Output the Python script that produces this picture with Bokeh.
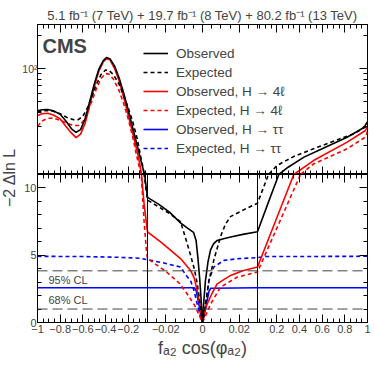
import numpy as np
from bokeh.plotting import figure
from bokeh.models import Range1d, LinearAxis, FixedTicker, Span, Label, Legend, LegendItem
from bokeh.layouts import column, row
from bokeh.embed import file_html
from bokeh.resources import INLINE

# ---------------- data ----------------
# x segment breaks of the piecewise axis
seg_breaks = [-0.03, 0.03]
cl_levels = [1.0, 3.84]
cl_labels = ["68% CL", "95% CL"]

x_tick_vals = [-1, -0.8, -0.6, -0.4, -0.2, -0.02, 0, 0.02, 0.2, 0.4, 0.6, 0.8, 1]
x_tick_labels = ["−1", "−0.8", "−0.6", "−0.4", "−0.2", "−0.02", "0", "0.02",
                 "0.2", "0.4", "0.6", "0.8", "1"]

# Observed, combined
obs_x = [-1.00, -0.96, -0.91, -0.86, -0.80, -0.75, -0.70, -0.66, -0.62, -0.58, -0.54,
         -0.50, -0.46, -0.42, -0.39, -0.36, -0.32, -0.28, -0.24, -0.20, -0.16, -0.12,
         -0.09, -0.07, -0.056, -0.045, -0.030,
         -0.024, -0.018, -0.012, -0.008, -0.0049, -0.0035, -0.0025, -0.0015, -0.0007, 0.0,
         0.0008, 0.0016, 0.003, 0.0044, 0.006, 0.008, 0.012, 0.016, 0.022, 0.030,
         0.12, 0.218, 0.30, 0.44, 0.60, 0.82, 0.95, 0.98, 1.00]
obs_y = [41.5, 42.4, 42.6, 41.5, 38.5, 33.5, 28.5, 26.5, 28.0, 35.0, 50.0,
         72.0, 98.0, 118.0, 126.0, 122.0, 105.0, 82.0, 60.0, 42.0, 29.0, 20.0,
         15.0, 12.5, 11.0, 10.3, 9.3,
         8.8, 8.2, 7.4, 7.0, 6.7, 6.1, 4.8, 3.2, 1.6, 0.0,
         1.7, 3.1, 4.5, 5.4, 5.85, 6.1, 6.25, 6.37, 6.55, 6.74,
         8.8, 11.0, 12.8, 15.8, 18.8, 23.9, 28.5, 30.5, 33.0]

# Expected, combined
exp_x = [-1.00, -0.96, -0.91, -0.86, -0.80, -0.74, -0.68, -0.64, -0.60, -0.56, -0.52,
         -0.48, -0.44, -0.40, -0.37, -0.33, -0.28, -0.24, -0.20, -0.16, -0.12, -0.09,
         -0.07, -0.06, -0.030,
         -0.024, -0.018, -0.012, -0.0093, -0.0065, -0.0045, -0.0029, -0.0015, 0.0,
         0.0015, 0.0035, 0.0061, 0.0098, 0.0125, 0.0153, 0.0224, 0.030,
         0.127, 0.204, 0.35, 0.524, 0.70, 0.877, 0.982, 1.00]
exp_y = [40.3, 41.5, 41.7, 41.0, 39.0, 36.0, 34.4, 34.5, 37.0, 44.0, 56.0,
         72.0, 88.0, 97.0, 96.0, 88.0, 72.0, 57.0, 44.0, 33.0, 23.0, 16.0,
         12.8, 11.0, 9.1,
         8.6, 8.1, 7.5, 6.3, 5.0, 4.0, 2.9, 1.6, 0.0,
         1.2, 3.1, 4.6, 6.37, 7.3, 7.87, 8.37, 8.87,
         11.0, 13.3, 16.0, 18.8, 22.0, 25.6, 29.5, 32.0]

# Observed, H -> 4l
obs4l_x = [-1.00, -0.96, -0.91, -0.86, -0.80, -0.75, -0.70, -0.66, -0.62, -0.58, -0.54,
           -0.50, -0.46, -0.42, -0.39, -0.36, -0.32, -0.28, -0.24, -0.20, -0.16, -0.12,
           -0.10, -0.083, -0.06, -0.030,
           -0.022, -0.012, -0.0065, -0.0045, -0.0029, -0.0015, 0.0,
           0.0012, 0.0025, 0.005, 0.008, 0.0153, 0.022, 0.030,
           0.35, 0.524, 0.821, 0.982, 1.00]
obs4l_y = [37.6, 39.0, 39.4, 38.0, 35.0, 30.0, 26.0, 23.7, 25.5, 32.0, 46.0,
           68.0, 94.0, 115.0, 123.0, 119.0, 100.0, 77.0, 55.0, 38.0, 26.0, 17.5,
           14.0, 11.0, 8.8, 6.74,
           5.9, 4.75, 3.87, 3.3, 2.37, 1.4, 0.0,
           0.8, 1.37, 2.1, 2.87, 3.5, 3.85, 4.12,
           11.0, 14.7, 21.6, 27.5, 30.0]

# Expected, H -> 4l
exp4l_x = [-1.00, -0.96, -0.91, -0.86, -0.80, -0.74, -0.68, -0.64, -0.60, -0.56, -0.52,
           -0.48, -0.44, -0.40, -0.37, -0.33, -0.28, -0.24, -0.20, -0.16, -0.13, -0.10,
           -0.085, -0.06, -0.04, -0.030,
           -0.020, -0.0125, -0.0082, -0.004, -0.002, 0.0,
           0.002, 0.0044, 0.0098, 0.0189, 0.030,
           0.409, 0.524, 0.821, 0.982, 1.00]
exp4l_y = [30.0, 33.5, 35.5, 35.5, 34.0, 32.0, 30.5, 30.5, 33.0, 40.0, 51.0,
           66.0, 81.0, 90.0, 89.0, 80.0, 63.0, 48.0, 35.0, 24.0, 17.0, 12.5,
           11.0, 7.5, 5.4, 4.75,
           3.8, 2.9, 2.1, 1.2, 0.6, 0.0,
           0.6, 1.37, 2.62, 3.37, 3.75,
           11.0, 13.7, 18.8, 24.0, 27.0]

# Observed, H -> tautau
obstt_x = [-1.00, -0.030, -0.0045, -0.0035, -0.002, -0.001, 0.0,
           0.001, 0.0025, 0.0035, 0.0045, 0.030, 1.00]
obstt_y = [2.58, 2.58, 2.58, 2.4, 1.37, 0.6, 0.0,
           0.6, 1.6, 2.3, 2.55, 2.58, 2.58]

# Expected, H -> tautau
exptt_x = [-1.00, -0.60, -0.30, -0.10, -0.030, -0.021, -0.012, -0.0082, -0.0065,
           -0.0045, -0.0029, -0.0015, 0.0, 0.0015, 0.0035, 0.0061, 0.0117, 0.020,
           0.030, 0.10, 1.00]
exptt_y = [4.92, 4.90, 4.85, 4.78, 4.67, 4.42, 4.12, 3.37, 3.12,
           2.3, 1.37, 0.6, 0.0, 1.2, 3.12, 4.12, 4.62, 4.75,
           4.82, 4.90, 4.92]


# ---------------- piecewise axis transform ----------------
def to_u(x):
    x = np.asarray(x, dtype=float)
    lo, hi = seg_breaks
    return np.where(x < lo, (x + 1.0) / (lo + 1.0),
                    np.where(x <= hi, 1.0 + (x - lo) / (hi - lo),
                             2.0 + (x - hi) / (1.0 - hi)))


maj_u = [float(v) for v in to_u(x_tick_vals)]
minor_x = (list(np.round(np.arange(-0.95, -0.03, 0.05), 4)) +
           list(np.round(np.arange(-0.025, 0.0301, 0.005), 4)) +
           list(np.round(np.arange(0.05, 1.0, 0.05), 4)))
minor_u = [float(v) for v in to_u(minor_x)]
label_map = {u: t for u, t in zip(maj_u, x_tick_labels)}

FONT = "Liberation Sans"
LAB_W = 18          # width of the strip that holds the y-axis title
BORDER_L = 37 - LAB_W

series = [
    (obstt_x, obstt_y, "#0000ff", "solid", "Observed, H → ττ"),
    (exptt_x, exptt_y, "#0000ff", "4 3", "Expected, H → ττ"),
    (exp4l_x, exp4l_y, "#ff0000", "4 3", "Expected, H → 4ℓ"),
    (obs4l_x, obs4l_y, "#ff0000", "solid", "Observed, H → 4ℓ"),
    (exp_x, exp_y, "black", "4 3", "Expected"),
    (obs_x, obs_y, "black", "solid", "Observed"),
]
legend_order = ["Observed", "Expected", "Observed, H → 4ℓ", "Expected, H → 4ℓ",
                "Observed, H → ττ", "Expected, H → ττ"]


def style_ticks(ax, ticks, minor):
    ax.ticker = FixedTicker(ticks=ticks, minor_ticks=minor)
    ax.major_tick_in = 8
    ax.major_tick_out = 0
    ax.minor_tick_in = 4
    ax.minor_tick_out = 0
    ax.axis_line_color = "black"
    ax.major_tick_line_color = "black"
    ax.minor_tick_line_color = "black"


def show_labels(ax, overrides, size="11px", standoff=2):
    if overrides:
        ax.major_label_overrides = overrides
    ax.major_label_text_font = FONT
    ax.major_label_text_font_size = size
    ax.major_label_standoff = standoff


def hide_labels(ax):
    ax.major_label_text_color = None
    ax.major_label_standoff = 0


# ---------------- top (log) panel ----------------
top = figure(frame_width=330, frame_height=150, x_range=Range1d(0, 3),
             y_range=Range1d(11, 250), y_axis_type="log",
             output_backend="svg", toolbar_location=None,
             min_border_left=BORDER_L, min_border_right=5, min_border_bottom=0,
             min_border_top=24, outline_line_color="black")
top.grid.visible = False
top.title.text = "5.1 fb⁻¹ (7 TeV) + 19.7 fb⁻¹ (8 TeV) + 80.2 fb⁻¹ (13 TeV)"
top.title.align = "center"
top.title.text_font = FONT
top.title.text_font_size = "13px"
top.title.text_font_style = "normal"
top.title.standoff = 3

style_ticks(top.xaxis[0], maj_u, minor_u)
hide_labels(top.xaxis[0])
ax_top = LinearAxis()
style_ticks(ax_top, maj_u, minor_u)
hide_labels(ax_top)
top.add_layout(ax_top, "above")

log_major = [100]
log_minor = [20, 30, 40, 50, 60, 70, 80, 90, 200]
style_ticks(top.yaxis[0], log_major, log_minor)
show_labels(top.yaxis[0], {100: "10²"}, size="10.5px", standoff=0)
ay_r = LinearAxis()
style_ticks(ay_r, log_major, log_minor)
hide_labels(ay_r)
top.add_layout(ay_r, "right")

renderers = {}
for xs, ys, col, dash, name in series:
    r = top.line(to_u(xs), ys, line_color=col, line_width=1.6, line_dash=dash)
    renderers[name] = r

legend = Legend(items=[LegendItem(label=n, renderers=[renderers[n]]) for n in legend_order],
                location=(106, 18), padding=0, margin=0, spacing=3,
                glyph_width=25, glyph_height=16, label_height=16, label_standoff=8,
                label_text_font=FONT, label_text_font_size="13.5px",
                background_fill_alpha=0, border_line_color=None)
top.add_layout(legend, "center")

top.add_layout(Label(x=5, y=129, x_units="screen", y_units="screen", text="CMS",
                     text_font=FONT, text_font_size="20px", text_font_style="bold",
                     text_baseline="alphabetic"))

# ---------------- bottom (linear) panel ----------------
bot = figure(frame_width=330, frame_height=148, x_range=Range1d(0, 3),
             y_range=Range1d(0, 11), output_backend="svg", toolbar_location=None,
             min_border_left=BORDER_L, min_border_right=5, min_border_top=0,
             min_border_bottom=0, outline_line_color="black")
bot.grid.visible = False
style_ticks(bot.xaxis[0], maj_u, minor_u)
show_labels(bot.xaxis[0], label_map)
bot.xaxis[0].axis_label = "fₐ₂ cos(φₐ₂)"
bot.xaxis[0].axis_label_text_font = FONT
bot.xaxis[0].axis_label_text_font_size = "18px"
bot.xaxis[0].axis_label_text_font_style = "normal"
bot.xaxis[0].axis_label_standoff = 2
bx_top = LinearAxis()
style_ticks(bx_top, maj_u, minor_u)
hide_labels(bx_top)
bot.add_layout(bx_top, "above")

lin_major = [0, 5, 10]
lin_minor = [1, 2, 3, 4, 6, 7, 8, 9, 11]
style_ticks(bot.yaxis[0], lin_major, lin_minor)
show_labels(bot.yaxis[0], None, size="11px", standoff=1)
by_r = LinearAxis()
style_ticks(by_r, lin_major, lin_minor)
hide_labels(by_r)
bot.add_layout(by_r, "right")

for lvl in cl_levels:
    bot.add_layout(Span(location=lvl, dimension="width", line_color="#444444",
                        line_width=1, line_dash="10 5"))
for ub in to_u(seg_breaks):
    bot.add_layout(Span(location=float(ub), dimension="height", line_color="black",
                        line_width=1))

for xs, ys, col, dash, name in series:
    bot.line(to_u(xs), ys, line_color=col, line_width=1.6, line_dash=dash)

for txt, yy in zip(cl_labels, [22.7, 42.7]):
    bot.add_layout(Label(x=11, y=yy, x_units="screen", y_units="screen", text=txt,
                         text_font=FONT, text_font_size="11px", text_baseline="middle"))

# ---------------- y-axis title strip spanning both panels ----------------
LAB_H = 322
lab = figure(width=LAB_W, height=LAB_H, x_range=Range1d(0, 1), y_range=Range1d(0, 1),
             x_axis_type=None, y_axis_type=None,
             output_backend="svg", toolbar_location=None, min_border=0,
             outline_line_color=None)
lab.grid.visible = False
lab.add_layout(Label(x=LAB_W / 2, y=LAB_H - 177, x_units="screen", y_units="screen",
                     text="−2 Δln L", angle=np.pi / 2, text_align="center",
                     text_baseline="middle", text_font=FONT, text_font_size="16px"))

layout = row(lab, column(top, bot))

open("out.html", "w").write(file_html(layout, INLINE))
